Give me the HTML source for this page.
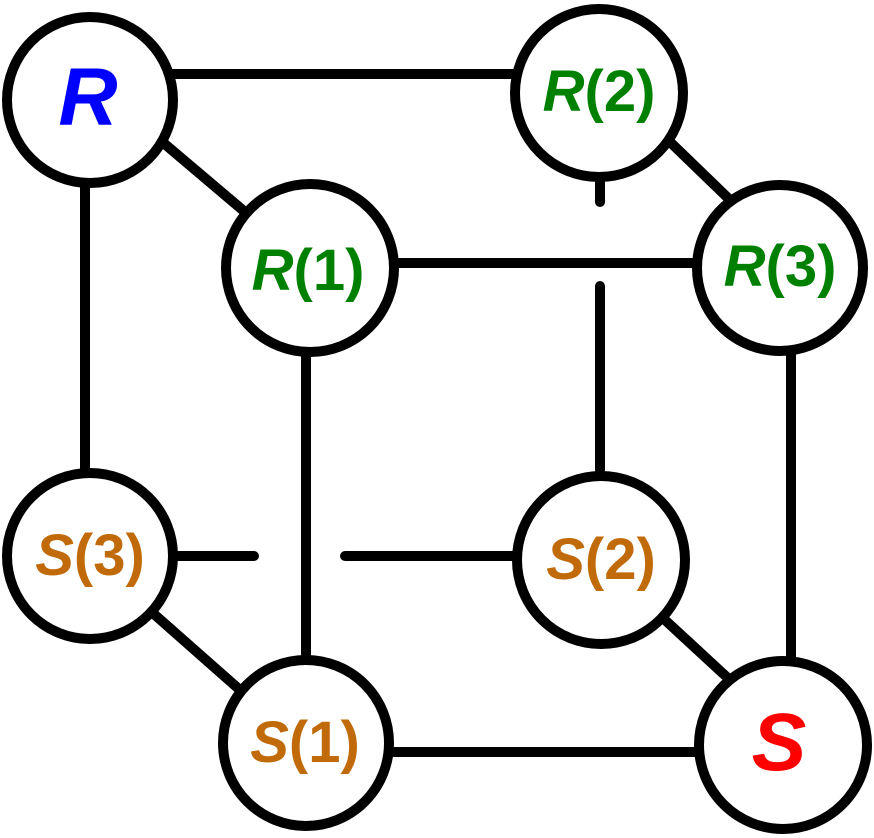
<!DOCTYPE html>
<html><head><meta charset="utf-8"><style>
html,body{margin:0;padding:0;background:#fff;}
svg{display:block}
text{font-family:"Liberation Sans",Arial,sans-serif;font-weight:bold;text-anchor:middle}
</style></head><body>
<svg width="874" height="838" viewBox="0 0 874 838" xmlns="http://www.w3.org/2000/svg">
<g stroke="#000" stroke-width="10" stroke-linecap="round" fill="none">
<line x1="170" y1="74" x2="520" y2="74"/>
<line x1="85" y1="180" x2="85" y2="470"/>
<line x1="160" y1="140" x2="245" y2="212"/>
<line x1="395" y1="263" x2="700" y2="263"/>
<line x1="306" y1="350" x2="306" y2="660"/>
<line x1="600" y1="180" x2="600" y2="202"/>
<line x1="600" y1="286" x2="600" y2="470"/>
<line x1="668" y1="140" x2="728" y2="198"/>
<line x1="791" y1="355" x2="791" y2="660"/>
<line x1="175" y1="556" x2="254" y2="556"/>
<line x1="345" y1="556" x2="515" y2="556"/>
<line x1="155" y1="615" x2="240" y2="690"/>
<line x1="390" y1="752" x2="700" y2="752"/>
<line x1="665" y1="620" x2="730" y2="680"/>
</g>
<g stroke="#000" stroke-width="10" fill="#fff">
<circle cx="90" cy="100" r="83"/>
<circle cx="599" cy="93" r="84"/>
<circle cx="310" cy="268" r="84"/>
<circle cx="780" cy="268" r="83"/>
<circle cx="90" cy="556" r="83"/>
<circle cx="601" cy="560" r="84"/>
<circle cx="306" cy="743" r="83"/>
<circle cx="783" cy="745" r="84"/>
</g>
<text x="88" y="125" font-size="82" fill="#0000ff" font-style="italic">R</text>
<text x="599" y="111" font-size="58" fill="#008000"><tspan font-style="italic">R</tspan>(2)</text>
<text x="308" y="290" font-size="58" fill="#008000"><tspan font-style="italic">R</tspan>(1)</text>
<text x="780" y="286" font-size="58" fill="#008000"><tspan font-style="italic">R</tspan>(3)</text>
<text x="90" y="575" font-size="58" fill="#c06a0a"><tspan font-style="italic">S</tspan>(3)</text>
<text x="601" y="579" font-size="58" fill="#c06a0a"><tspan font-style="italic">S</tspan>(2)</text>
<text x="305" y="762" font-size="58" fill="#c06a0a"><tspan font-style="italic">S</tspan>(1)</text>
<text x="779" y="770" font-size="82" fill="#ff0000" font-style="italic">S</text>
</svg>
</body></html>
